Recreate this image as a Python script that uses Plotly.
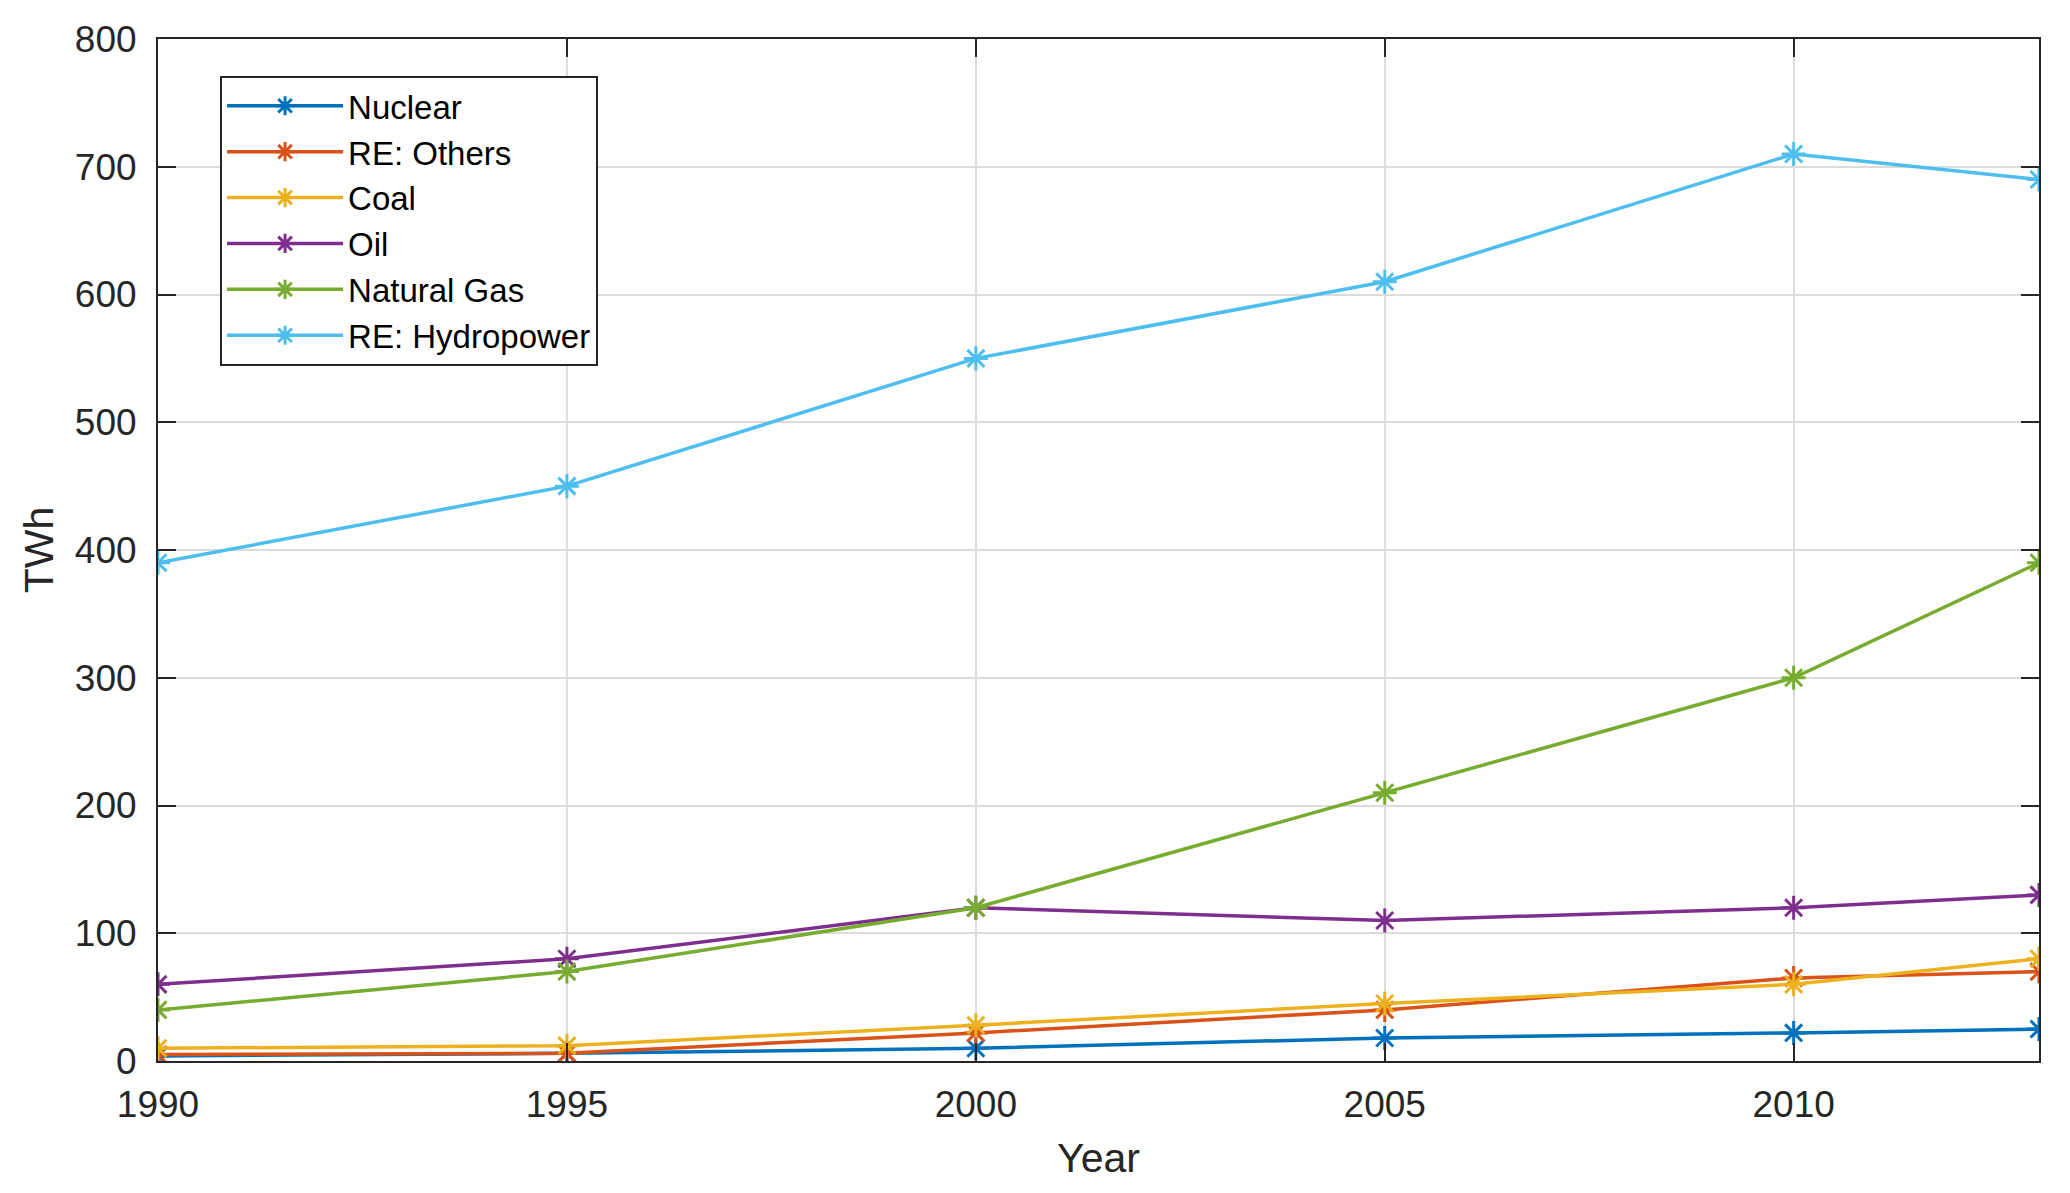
import plotly.graph_objects as go

years = [1990, 1995, 2000, 2005, 2010, 2013]
nuclear = [4, 6, 10, 18, 22, 25]
re_others = [5, 6, 22, 40, 65, 70]
coal = [10, 12, 28, 45, 60, 80]
oil = [60, 80, 120, 110, 120, 130]
natural_gas = [40, 70, 120, 210, 300, 390]
hydropower = [390, 450, 550, 610, 710, 690]

names = ["Nuclear", "RE: Others", "Coal", "Oil", "Natural Gas", "RE: Hydropower"]
series = [nuclear, re_others, coal, oil, natural_gas, hydropower]
colors = ["#0072BD", "#D95319", "#EDB120", "#7E2F8E", "#77AC30", "#4DBEEE"]

x_ticks = [1990, 1995, 2000, 2005, 2010]
y_ticks = [0, 100, 200, 300, 400, 500, 600, 700, 800]

FONT = "Liberation Sans, Arial, sans-serif"

fig = go.Figure()
for name, vals, col in zip(names, series, colors):
    fig.add_trace(go.Scatter(
        x=years, y=vals, name=name, mode="lines+markers",
        line=dict(color=col, width=3.5),
        marker=dict(symbol="asterisk-open", size=20, color=col,
                    line=dict(color=col, width=3)),
    ))

axis_common = dict(
    showline=True, linecolor="#262626", linewidth=2, mirror="ticks",
    ticks="inside", ticklen=18, tickwidth=2, tickcolor="#262626",
    showgrid=True, gridcolor="#dcdcdc", gridwidth=1.5,
    zeroline=False,
    tickfont=dict(family=FONT, size=37, color="#262626"),
)

fig.update_xaxes(range=[1990, 2013], tickvals=x_ticks, ticktext=[str(v) for v in x_ticks],
                 title=dict(text="Year", font=dict(family=FONT, size=41, color="#262626"), standoff=19),
                 ticklabelstandoff=10, **axis_common)
fig.update_yaxes(range=[0, 800], tickvals=y_ticks, ticktext=[str(v) for v in y_ticks],
                 title=dict(text="TWh", font=dict(family=FONT, size=41, color="#262626"), standoff=9),
                 ticklabelstandoff=12, **axis_common)

fig.update_layout(
    width=2070, height=1193,
    margin=dict(l=150, r=39, t=31, b=140),
    paper_bgcolor="white", plot_bgcolor="white",
    font=dict(family=FONT, color="#262626"),
    legend=dict(
        x=0.033, y=0.964, xanchor="left", yanchor="top",
        bgcolor="white", bordercolor="#262626", borderwidth=2,
        font=dict(family=FONT, size=33, color="#000000"),
        tracegroupgap=0, itemwidth=116,
    ),
    showlegend=True,
)

fig.write_html("out.html")
